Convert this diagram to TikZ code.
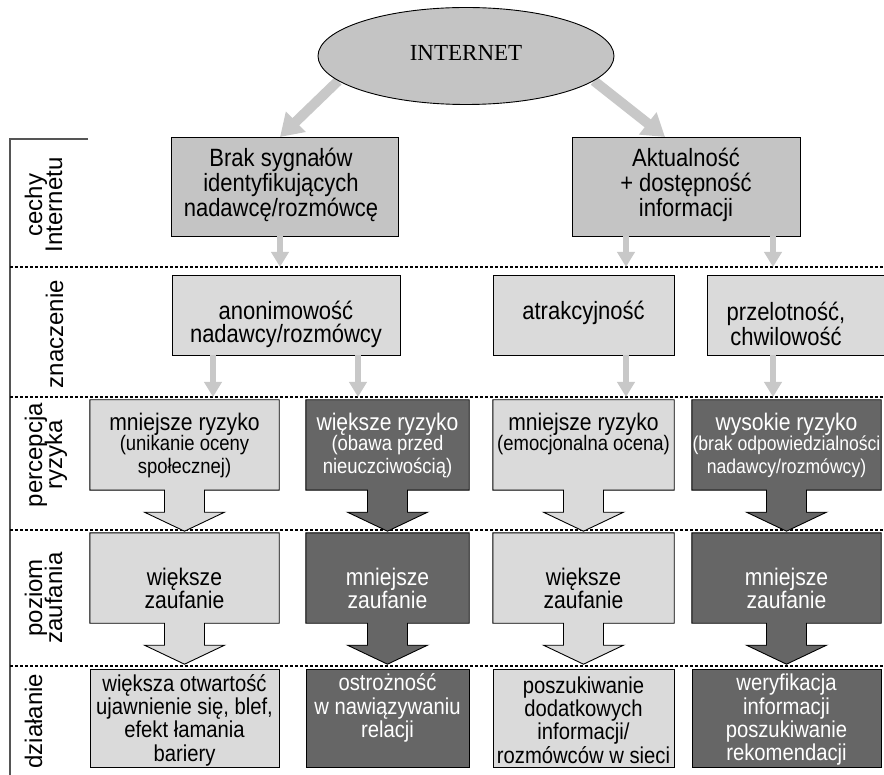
\documentclass[tikz,border=0pt]{standalone}
\usepackage{fontspec}
\setmainfont{Liberation Sans}
\newfontfamily\nar[FakeStretch=0.88]{Liberation Sans}
\newfontfamily\serifint{Liberation Serif}
\usetikzlibrary{arrows.meta,shapes.geometric,calc,backgrounds}
\definecolor{midg}{HTML}{C4C4C4}
\definecolor{lightg}{HTML}{DADADA}
\definecolor{darkg}{HTML}{666666}
\definecolor{arrg}{HTML}{C8C8C8}
\definecolor{frameg}{HTML}{555555}
\begin{document}
\begin{tikzpicture}[x=1pt,y=-1pt,
  box/.style={draw=black, line width=0.9pt, inner sep=0pt, rectangle},
  holder/.style={inner sep=0pt, rectangle},
  lightblk/.style={draw=black, line width=0.9pt, fill=lightg},
  darkblk/.style={draw=black, line width=0.9pt, fill=darkg},
  txt/.style={align=center, inner sep=0pt},
  tA/.style={txt, font=\nar\fontsize{25}{25}\selectfont},
  tB/.style={txt, font=\nar\fontsize{25}{23}\selectfont},
  tT/.style={txt, font=\nar\fontsize{24}{24}\selectfont},
  tS/.style={txt, font=\nar\fontsize{21}{22.5}\selectfont},
  tSs/.style={txt, font=\nar\fontsize{20}{22.5}\selectfont},
  tZ/.style={txt, font=\nar\fontsize{24}{22}\selectfont},
  tD/.style={txt, font=\nar\fontsize{23}{23.3}\selectfont},
  lab/.style={rotate=90, anchor=base, inner sep=0pt, font=\fontsize{24}{24}\selectfont},
  sepline/.style={line width=1.4pt, dash pattern=on 3pt off 2pt},
  thinarr/.style={draw=arrg, line width=5.5pt, -{Triangle[width=17pt,length=15pt]}},
  bigarr/.style={draw=arrg, line width=10pt, -{Triangle[width=27pt,length=22pt]}}
]
\useasboundingbox (0,0) rectangle (884,775);

% frame on the left and row separators
\draw[frameg, line width=1.1pt] (88,139) -- (10,139) -- (10,775);
\draw[sepline] (10,267) -- (884,267);
\draw[sepline] (10,397) -- (884,397);
\draw[sepline] (10,530) -- (884,530);
\draw[sepline] (10,666) -- (884,666);

% row labels
\node[lab] (l1a) at (42,205) {cechy};
\node[lab] (l1b) at (62,205) {Internetu};
\node[lab] (l2) at (63,334) {znaczenie};
\node[lab] (l3a) at (42,455) {percepcja};
\node[lab] (l3b) at (62,455) {ryzyka};
\node[lab] (l4a) at (42,598) {poziom};
\node[lab] (l4b) at (62,598) {zaufania};
\node[lab] (l5) at (42,721) {działanie};

% INTERNET
\node[ellipse, draw=black, line width=0.9pt, fill=midg, minimum width=296pt, minimum height=97pt, inner sep=0pt,
      font=\serifint\fontsize{23}{23}\selectfont] (inet) at (466,56) {\raisebox{6pt}{INTERNET}};

% row 1
\node[box, fill=midg, minimum width=227pt, minimum height=99pt] (r1a) at (284.5,186.5) {};
\node[box, fill=midg, minimum width=228pt, minimum height=99pt] (r1b) at (686,186.5) {};
\node[tA] (t1a) at (281,184.5) {Brak sygnałów\\identyfikujących\\nadawcę/rozmówcę};
\node[tA] (t1b) at (686,184.5) {Aktualność\\+ dostępność\\informacji};

\coordinate (tipL) at (280,137);
\coordinate (tipR) at (665,137);
\begin{scope}[on background layer]
\draw[bigarr] (inet.191) -- (tipL);
\draw[bigarr] (inet.-11) -- (tipR);
\end{scope}

% row 2
\node[box, fill=lightg, minimum width=228pt, minimum height=80pt] (r2a) at (286,315) {};
\node[box, fill=lightg, minimum width=181pt, minimum height=80pt] (r2b) at (583.5,315) {};
\node[box, fill=lightg, minimum width=179pt, minimum height=80pt] (r2c) at (796.5,315) {};
\node[tB] (t2a) at (286,324) {anonimowość\\nadawcy/rozmówcy};
\node[tB] (t2b) at (583.5,312.5) {atrakcyjność};
\node[tB] (t2c) at (786,324) {przelotność,\\chwilowość};

\coordinate (a1) at (280,267);
\coordinate (a2) at (626,267);
\coordinate (a3) at (773,267);
\draw[thinarr] (r1a.south -| a1) -- (a1);
\draw[thinarr] (r1b.south -| a2) -- (a2);
\draw[thinarr] (r1b.south -| a3) -- (a3);

\coordinate (b1) at (213,397);
\coordinate (b2) at (358,397);
\coordinate (b3) at (626,397);
\coordinate (b4) at (773,397);
\draw[thinarr] (r2a.south -| b1) -- (b1);
\draw[thinarr] (r2a.south -| b2) -- (b2);
\draw[thinarr] (r2b.south -| b3) -- (b3);
\draw[thinarr] (r2c.south -| b4) -- (b4);

% rows 3 and 4: boxes with block arrows
\node[holder, minimum width=189pt, minimum height=90pt] (p3a) at (184.5,445) {};
\node[holder, minimum width=163pt, minimum height=90pt] (p3b) at (387.5,445) {};
\node[holder, minimum width=181pt, minimum height=90pt] (p3c) at (583.5,445) {};
\node[holder, minimum width=189pt, minimum height=90pt] (p3d) at (786.5,445) {};
\node[holder, minimum width=189pt, minimum height=90pt] (p4a) at (184.5,578) {};
\node[holder, minimum width=163pt, minimum height=90pt] (p4b) at (387.5,578) {};
\node[holder, minimum width=181pt, minimum height=90pt] (p4c) at (583.5,578) {};
\node[holder, minimum width=189pt, minimum height=90pt] (p4d) at (786.5,578) {};

\foreach \n/\s in {p3a/lightblk, p3b/darkblk, p3c/lightblk, p3d/darkblk,
                   p4a/lightblk, p4b/darkblk, p4c/lightblk, p4d/darkblk}{
  \draw[\s, line join=miter] (\n.north west) -- (\n.north east) -- (\n.south east)
    -- ($(\n.south)+(20,0)$) -- ($(\n.south)+(20,22)$) -- ($(\n.south)+(40,22)$)
    -- ($(\n.south)+(0,41)$)
    -- ($(\n.south)+(-40,22)$) -- ($(\n.south)+(-20,22)$) -- ($(\n.south)+(-20,0)$)
    -- (\n.south west) -- cycle;
}

\node[tT] (t3a) at (184.5,424.4) {mniejsze ryzyko};
\node[tS] (s3a) at (184.5,456.5) {(unikanie oceny\\społecznej)};
\node[tT, text=white] (t3b) at (387.5,424.4) {większe ryzyko};
\node[tS, text=white] (s3b) at (387.5,456.5) {(obawa przed\\nieuczciwością)};
\node[tT] (t3c) at (583.5,424.4) {mniejsze ryzyko};
\node[tS] (s3c) at (583.5,445) {(emocjonalna ocena)};
\node[tT, text=white] (t3d) at (786.5,424.4) {wysokie ryzyko};
\node[tSs, text=white] (s3d) at (786.5,456.5) {(brak odpowiedzialności\\nadawcy/rozmówcy)};

\node[tZ] (t4a) at (184.5,588.4) {większe\\zaufanie};
\node[tZ, text=white] (t4b) at (387.5,588.4) {mniejsze\\zaufanie};
\node[tZ] (t4c) at (583.5,588.4) {większe\\zaufanie};
\node[tZ, text=white] (t4d) at (786.5,588.4) {mniejsze\\zaufanie};

% row 5
\node[box, fill=lightg, minimum width=189pt, minimum height=98pt] (r5a) at (184.5,718) {};
\node[box, fill=darkg, minimum width=163pt, minimum height=98pt] (r5b) at (387.5,718) {};
\node[box, fill=lightg, minimum width=181pt, minimum height=98pt] (r5c) at (583.5,718) {};
\node[box, fill=darkg, minimum width=189pt, minimum height=98pt] (r5d) at (786.5,718) {};
\node[tD] (t5a) at (184.5,720) {większa otwartość\\ujawnienie się, blef,\\efekt łamania\\bariery};
\node[tD, text=white] (t5b) at (387.5,708) {ostrożność\\w nawiązywaniu\\relacji};
\node[tD] (t5c) at (583.5,720) {poszukiwanie\\dodatkowych\\informacji/\\rozmówców w sieci};
\node[tD, text=white] (t5d) at (786.5,720) {weryfikacja\\informacji\\poszukiwanie\\rekomendacji};
\end{tikzpicture}
\end{document}
